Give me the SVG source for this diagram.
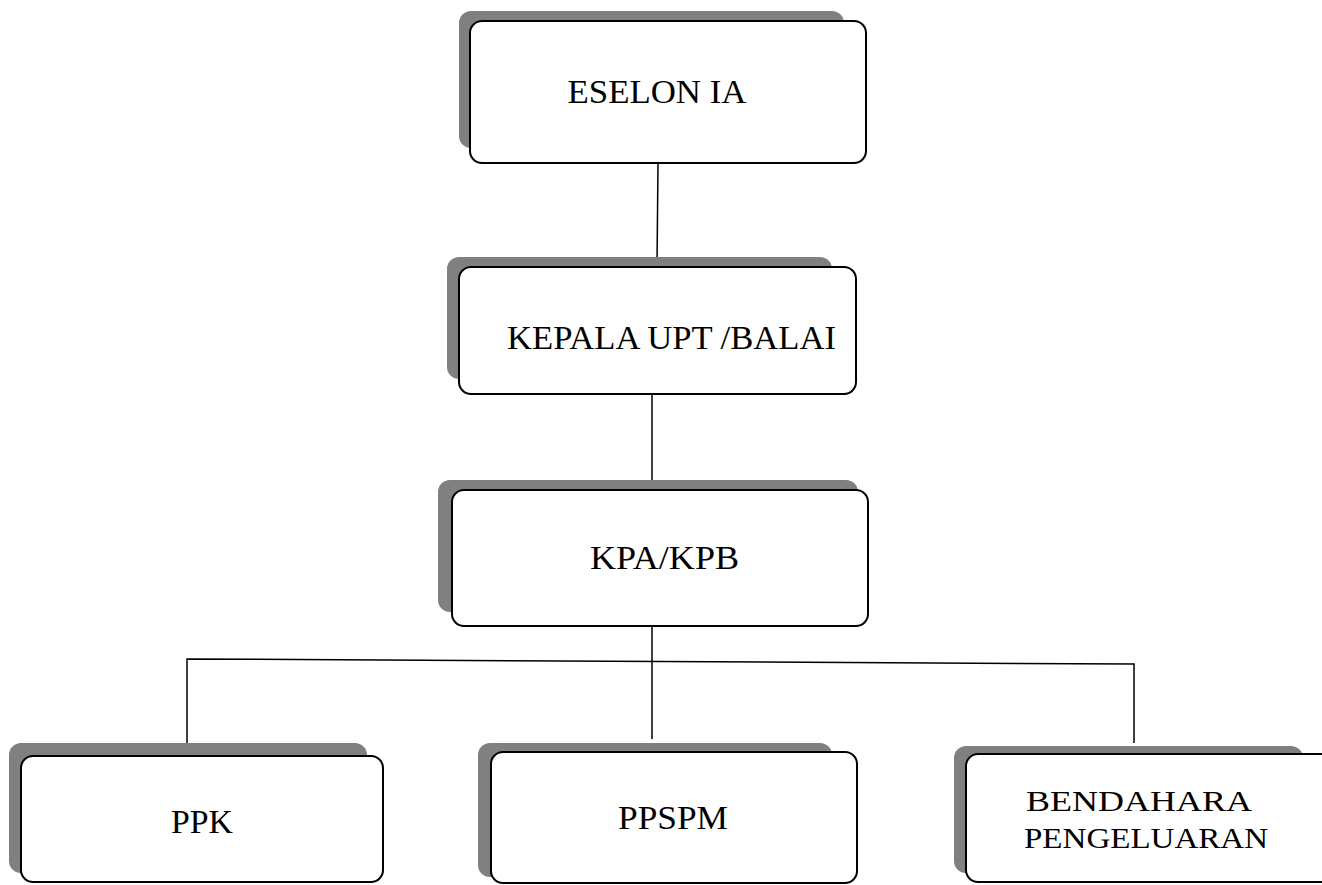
<svg xmlns="http://www.w3.org/2000/svg" width="1322" height="885" viewBox="0 0 1322 885">
<style>
.sh{fill:#808080;}
.bx{fill:#fff;stroke:#000;stroke-width:2;}
.t{font-family:"Liberation Serif","Times New Roman",serif;font-size:33px;fill:#000;}
.t2{font-family:"Liberation Serif","Times New Roman",serif;font-size:29px;fill:#000;}
.c{stroke:#000;stroke-width:1.5;fill:none;}
</style>
<rect width="1322" height="885" fill="#fff"/>
<g id="connectors">
<line class="c" x1="658" y1="163" x2="657" y2="266"/>
<line class="c" x1="652" y1="394" x2="652" y2="490"/>
<line class="c" x1="652" y1="626" x2="652" y2="739"/>
<polyline class="c" points="187,756 187,659 1134,664 1134,743"/>
</g>
<g id="eselon">
<rect class="sh" x="459" y="11" width="385" height="137" rx="12"/>
<rect class="bx" x="470" y="21" width="396" height="142" rx="12"/>
<text class="t" x="657" y="103" text-anchor="middle" textLength="179" lengthAdjust="spacingAndGlyphs">ESELON IA</text>
</g>
<g id="kepala">
<rect class="sh" x="447" y="257" width="385" height="122" rx="12"/>
<rect class="bx" x="459" y="267" width="397" height="127" rx="12"/>
<text class="t" x="507" y="349" textLength="329" lengthAdjust="spacingAndGlyphs">KEPALA UPT /BALAI</text>
</g>
<g id="kpa">
<rect class="sh" x="438" y="480" width="420" height="132" rx="12"/>
<rect class="bx" x="452" y="490" width="416" height="136" rx="12"/>
<text class="t" x="590" y="569" textLength="149" lengthAdjust="spacingAndGlyphs">KPA/KPB</text>
</g>
<g id="ppk">
<rect class="sh" x="9" y="743" width="358" height="130" rx="12"/>
<rect class="bx" x="21" y="756" width="362" height="126" rx="12"/>
<text class="t" x="171" y="833" textLength="62" lengthAdjust="spacingAndGlyphs">PPK</text>
</g>
<g id="ppspm">
<rect class="sh" x="478" y="743" width="354" height="134" rx="12"/>
<rect class="bx" x="491" y="752" width="366" height="131" rx="12"/>
<text class="t" x="618" y="829" textLength="110" lengthAdjust="spacingAndGlyphs">PPSPM</text>
</g>
<g id="bendahara">
<rect class="sh" x="954" y="746" width="349" height="127" rx="12"/>
<rect class="bx" x="966" y="754" width="370" height="128" rx="12"/>
<text class="t2" x="1026" y="811" textLength="226" lengthAdjust="spacingAndGlyphs">BENDAHARA</text>
<text class="t2" x="1024" y="848" textLength="244" lengthAdjust="spacingAndGlyphs">PENGELUARAN</text>
</g>
</svg>
